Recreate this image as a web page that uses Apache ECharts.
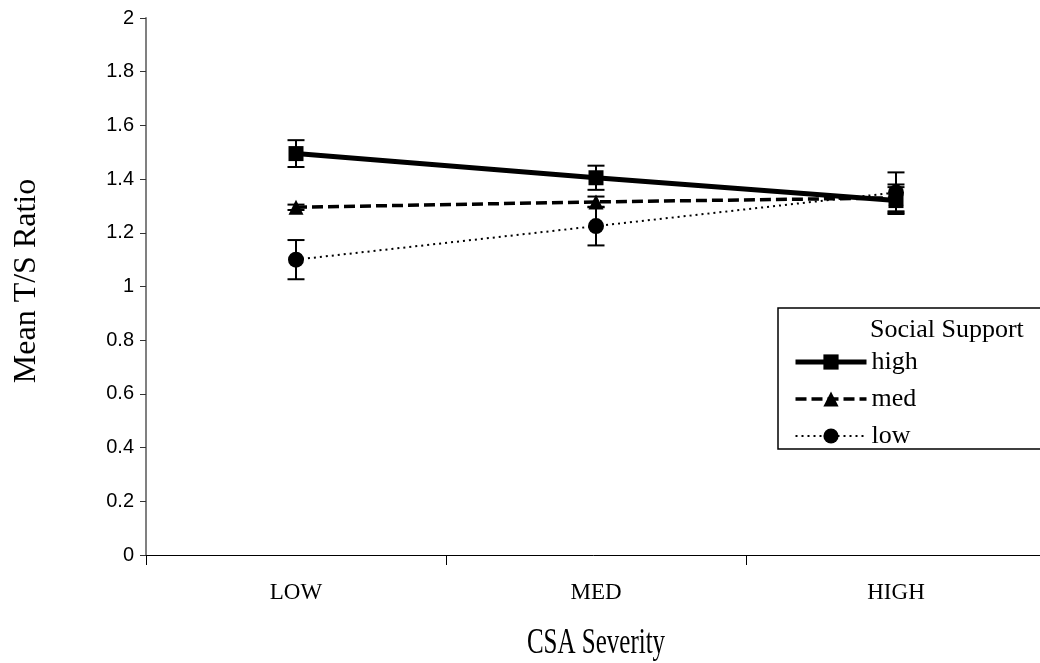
<!DOCTYPE html>
<html><head><meta charset="utf-8">
<script src="https://cdn.jsdelivr.net/npm/echarts@6/dist/echarts.min.js"></script>
<style>html,body{margin:0;padding:0;background:#fff}#c{width:1040px;height:663px}</style>
</head><body><div id="c"></div>
<script>
var categories = ['LOW', 'MED', 'HIGH'];
var yTicks = [0, 0.2, 0.4, 0.6, 0.8, 1, 1.2, 1.4, 1.6, 1.8, 2];
var seriesNames = ['high', 'med', 'low'];
var highValues = [1.495, 1.405, 1.32];
var highErrors = [0.05, 0.045, 0.05];
var medValues = [1.295, 1.315, 1.33];
var medErrors = [0.01, 0.02, 0.05];
var lowValues = [1.10, 1.225, 1.35];
var lowErrors = [0.073, 0.072, 0.075];
var xTitle = 'CSA Severity';
var yTitle = 'Mean T/S Ratio';
var legendTitle = 'Social Support';

var chart = echarts.init(document.getElementById('c'));

function errSeries(values, errors) {
  var data = values.map(function (v, i) { return [i, v - errors[i], v + errors[i]]; });
  return {
    type: 'custom',
    silent: true,
    z: 1,
    data: data,
    renderItem: function (params, api) {
      var x = api.value(0);
      var lo = api.coord([x, api.value(1)]);
      var hi = api.coord([x, api.value(2)]);
      var hw = 8.5;
      var st = { stroke: '#000', lineWidth: 2 };
      return {
        type: 'group',
        children: [
          { type: 'line', shape: { x1: lo[0], y1: lo[1], x2: hi[0], y2: hi[1] }, style: st },
          { type: 'line', shape: { x1: lo[0] - hw, y1: lo[1], x2: lo[0] + hw, y2: lo[1] }, style: st },
          { type: 'line', shape: { x1: hi[0] - hw, y1: hi[1], x2: hi[0] + hw, y2: hi[1] }, style: st }
        ]
      };
    }
  };
}

var lineStyles = {
  high: { color: '#000', width: 5, type: 'solid' },
  med: { color: '#000', width: 3.5, type: [11, 5] },
  low: { color: '#000', width: 2, type: [2, 4] }
};

var option = {
  animation: false,
  grid: { left: 146, width: 900, top: 18, bottom: 108, outerBoundsMode: 'none', containLabel: false },
  xAxis: {
    type: 'category',
    data: categories,
    boundaryGap: true,
    axisLine: { lineStyle: { color: '#000', width: 1 } },
    axisTick: { show: true, length: 10, lineStyle: { color: '#000' } },
    axisLabel: { color: '#000', fontFamily: 'Liberation Serif', fontSize: 23, margin: 26 },
    splitLine: { show: false }
  },
  yAxis: {
    type: 'value',
    min: yTicks[0],
    max: yTicks[yTicks.length - 1],
    interval: 0.2,
    axisLine: { show: true, lineStyle: { color: '#808080', width: 2 } },
    axisTick: { show: true, length: 6, lineStyle: { color: '#333' } },
    axisLabel: {
      color: '#000', fontFamily: 'Liberation Sans', fontSize: 20, margin: 12,
      formatter: function (v) { return String(Math.round(v * 10) / 10); }
    },
    splitLine: { show: false }
  },
  legend: {
    data: seriesNames.map(function (n) { return { name: n, lineStyle: lineStyles[n] }; }),
    orient: 'vertical',
    left: 788,
    top: 344,
    itemWidth: 71,
    itemHeight: 19,
    itemGap: 11,
    textStyle: { color: '#000', fontFamily: 'Liberation Serif', fontSize: 26 },
    selectedMode: false
  },
  graphic: [
    { type: 'rect', shape: { x: 778, y: 308, width: 280, height: 141 }, style: { fill: '#fff', stroke: '#000', lineWidth: 1.5 }, z: -1 },
    { type: 'text', x: 870, y: 330, style: { text: legendTitle, x: 0, y: 0, verticalAlign: 'middle', fill: '#000', font: '26px "Liberation Serif"' } },
    { type: 'text', x: 596, y: 644, scaleY: 1.4, style: { text: xTitle, x: 0, y: 0, align: 'center', verticalAlign: 'middle', fill: '#000', font: '25px "Liberation Serif"' } },
    { type: 'text', x: 27, y: 281, rotation: Math.PI / 2, style: { text: yTitle, x: 0, y: 0, align: 'center', verticalAlign: 'middle', fill: '#000', font: '32px "Liberation Serif"' } }
  ],
  series: [
    errSeries(highValues, highErrors),
    errSeries(medValues, medErrors),
    errSeries(lowValues, lowErrors),
    {
      name: 'high', type: 'line', data: highValues, z: 3,
      symbol: 'rect', symbolSize: 15,
      lineStyle: lineStyles.high,
      itemStyle: { color: '#000' }
    },
    {
      name: 'med', type: 'line', data: medValues, z: 3,
      symbol: 'triangle', symbolSize: 15,
      lineStyle: lineStyles.med,
      itemStyle: { color: '#000' }
    },
    {
      name: 'low', type: 'line', data: lowValues, z: 3,
      symbol: 'circle', symbolSize: 16,
      lineStyle: lineStyles.low,
      itemStyle: { color: '#000' }
    }
  ]
};
chart.setOption(option);
</script>
</body></html>
